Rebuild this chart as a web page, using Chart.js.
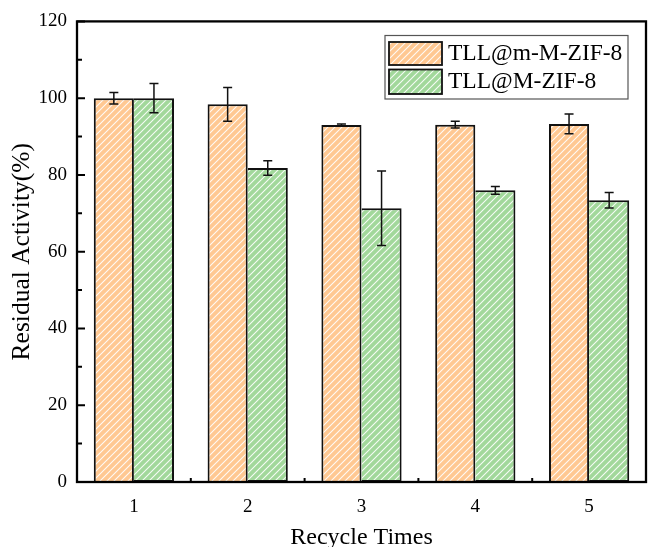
<!DOCTYPE html>
<html>
<head>
<meta charset="utf-8">
<script src="https://cdn.jsdelivr.net/npm/chart.js@4/dist/chart.umd.min.js"></script>
<style>
  html, body { margin: 0; padding: 0; background: #fff; }
  #wrap { width: 648px; height: 547px; position: relative; }
</style>
</head>
<body>
<div id="wrap"><canvas id="c" width="648" height="547"></canvas></div>
<script>
// ---- data ----
const categories = ['1', '2', '3', '4', '5'];
const seriesNames = ['TLL@m-M-ZIF-8', 'TLL@M-ZIF-8'];
const mMZIF = [100, 98.4, 93.0, 93.1, 93.3];
const mMZIFErr = [1.5, 4.4, 0.3, 0.9, 2.6];
const MZIF = [100, 81.8, 71.3, 76.0, 73.4];
const MZIFErr = [3.8, 1.9, 9.7, 1.0, 2.0];
const yTicks = [0, 20, 40, 60, 80, 100, 120];
const yMinorTicks = [10, 30, 50, 70, 90, 110];
const axisTitleX = 'Recycle Times';
const axisTitleY = 'Residual Activity(%)';

const FONT = '"Liberation Serif", "Times New Roman", serif';

function hatch(bg) {
  const s = 7;
  const c = document.createElement('canvas');
  c.width = s; c.height = s;
  const x = c.getContext('2d');
  x.fillStyle = bg; x.fillRect(0, 0, s, s);
  x.strokeStyle = 'rgba(255,255,255,0.9)';
  x.lineWidth = 1.1;
  x.beginPath();
  x.moveTo(0, s); x.lineTo(s, 0);
  x.moveTo(-1, 1); x.lineTo(1, -1);
  x.moveTo(s - 1, s + 1); x.lineTo(s + 1, s - 1);
  x.stroke();
  return document.getElementById('c').getContext('2d').createPattern(c, 'repeat');
}
const orangePat = hatch('#FFC892');
const greenPat = hatch('#A2D89B');
const errors = [mMZIFErr, MZIFErr];

const overlay = {
  id: 'overlay',
  afterDatasetsDraw(chart) {
    const ctx = chart.ctx;
    const a = chart.chartArea;
    const ys = chart.scales.y, xs = chart.scales.x;
    ctx.save();
    // error bars
    ctx.strokeStyle = '#111';
    ctx.lineWidth = 1.5;
    chart.data.datasets.forEach((ds, di) => {
      const meta = chart.getDatasetMeta(di);
      meta.data.forEach((bar, i) => {
        const v = ds.data[i], e = errors[di][i];
        const yt = ys.getPixelForValue(v + e), yb = ys.getPixelForValue(v - e);
        const cx = bar.x, w = 4.5;
        ctx.beginPath();
        ctx.moveTo(cx, yt); ctx.lineTo(cx, yb);
        ctx.moveTo(cx - w, yt); ctx.lineTo(cx + w, yt);
        ctx.moveTo(cx - w, yb); ctx.lineTo(cx + w, yb);
        ctx.stroke();
      });
    });
    // frame
    ctx.strokeStyle = '#000';
    ctx.lineWidth = 2.3;
    ctx.strokeRect(a.left, a.top, a.right - a.left, a.bottom - a.top);
    // y ticks (inward)
    ctx.lineWidth = 2;
    ctx.beginPath();
    yTicks.forEach(t => { const y = ys.getPixelForValue(t); ctx.moveTo(a.left, y); ctx.lineTo(a.left + 8, y); });
    yMinorTicks.forEach(t => { const y = ys.getPixelForValue(t); ctx.moveTo(a.left, y); ctx.lineTo(a.left + 5, y); });
    // x minor ticks between categories (inward)
    for (let i = 0; i < categories.length - 1; i++) {
      const x = (xs.getPixelForValue(i) + xs.getPixelForValue(i + 1)) / 2;
      ctx.moveTo(x, a.bottom); ctx.lineTo(x, a.bottom - 4);
    }
    ctx.stroke();
    // legend
    const L = { x: 385, y: 35.5, w: 243, h: 63.5 };
    ctx.fillStyle = '#fff';
    ctx.fillRect(L.x, L.y, L.w, L.h);
    ctx.strokeStyle = '#555';
    ctx.lineWidth = 1.2;
    ctx.strokeRect(L.x, L.y, L.w, L.h);
    const rows = [{ y: 42, h: 23 }, { y: 69.5, h: 24.5 }];
    chart.data.datasets.forEach((ds, di) => {
      const r = rows[di];
      ctx.fillStyle = ds.backgroundColor;
      ctx.fillRect(389, r.y, 53, r.h);
      ctx.strokeStyle = '#111';
      ctx.lineWidth = 1.8;
      ctx.strokeRect(389, r.y, 53, r.h);
      ctx.fillStyle = '#000';
      ctx.font = '23.5px ' + FONT;
      ctx.textBaseline = 'middle';
      ctx.textAlign = 'left';
      ctx.fillText(ds.label, 448, r.y + r.h / 2 + 0.5);
    });
    ctx.restore();
  }
};

new Chart(document.getElementById('c'), {
  type: 'bar',
  data: {
    labels: categories,
    datasets: [
      { label: seriesNames[0], data: mMZIF, backgroundColor: orangePat, borderColor: '#111', borderWidth: 2 },
      { label: seriesNames[1], data: MZIF, backgroundColor: greenPat, borderColor: '#111', borderWidth: 2, borderSkipped: 'left' }
    ]
  },
  options: {
    responsive: false,
    animation: false,
    devicePixelRatio: 1,
    layout: { padding: { top: 20, right: 2, left: 0, bottom: 0 } },
    plugins: { legend: { display: false }, tooltip: { enabled: false } },
    datasets: { bar: { categoryPercentage: 0.705, barPercentage: 1.0 } },
    scales: {
      x: {
        grid: { display: false, drawTicks: false },
        border: { display: false },
        ticks: { color: '#000', font: { family: FONT, size: 19 }, padding: 14, maxRotation: 0 },
        title: { display: true, text: axisTitleX, color: '#000', font: { family: FONT, size: 24, lineHeight: 1.2 }, padding: { top: 0, bottom: -5 } },
        afterFit(s) { s.height = 65; }
      },
      y: {
        min: 0, max: 120,
        grid: { display: false, drawTicks: false },
        border: { display: false },
        ticks: { stepSize: 20, color: '#000', font: { family: FONT, size: 19 }, padding: 10 },
        title: { display: true, text: axisTitleY, color: '#000', font: { family: FONT, size: 25.5, lineHeight: 1.2 }, padding: { top: 7, bottom: 0 } },
        afterFit(s) { s.width = 77; }
      }
    }
  },
  plugins: [overlay]
});
</script>
</body>
</html>
